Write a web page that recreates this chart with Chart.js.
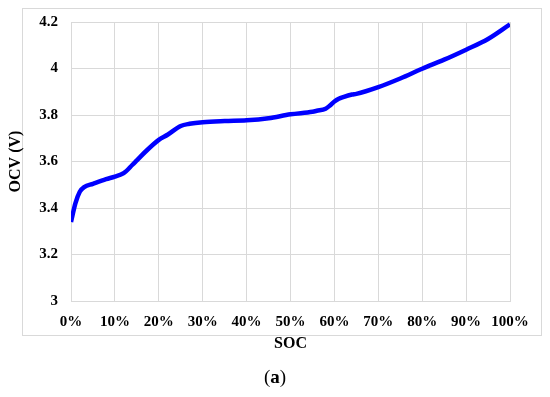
<!DOCTYPE html>
<html>
<head>
<meta charset="utf-8">
<script src="https://cdn.jsdelivr.net/npm/chart.js@4/dist/chart.umd.min.js"></script>
<style>
  html, body { margin: 0; padding: 0; background: #fff; }
  #wrap { position: relative; width: 550px; height: 397px; }
  #frame { position: absolute; left: 22px; top: 8px; width: 518px; height: 326px; border: 1px solid #d9d9d9; }
  #c { position: absolute; left: 0; top: 0; }
  #cap { position: absolute; left: 0; width: 550px; top: 366px; text-align: center; font-family: "Liberation Serif", serif; font-size: 19px; color: #000; }
</style>
</head>
<body>
<div id="wrap">
  <div id="frame"></div>
  <canvas id="c" width="550" height="397"></canvas>
  <div id="cap">(<b>a</b>)</div>
</div>
<script>
const socValues = [0, 1, 2, 3, 5, 8, 10, 12, 14, 15, 17, 20, 22, 25, 27, 30, 35, 40, 45, 50, 55, 56, 58, 59, 60, 61, 62, 64, 65, 70, 75, 80, 85, 90, 95, 100];
const ocvValues = [3.34, 3.42, 3.47, 3.49, 3.504, 3.524, 3.535, 3.55, 3.586, 3.605, 3.643, 3.693, 3.715, 3.753, 3.762, 3.769, 3.774, 3.777, 3.786, 3.803, 3.814, 3.818, 3.827, 3.841, 3.858, 3.870, 3.877, 3.888, 3.891, 3.92, 3.957, 3.999, 4.038, 4.081, 4.127, 4.19];
const xTicks = [0, 10, 20, 30, 40, 50, 60, 70, 80, 90, 100];
const yTicks = [3, 3.2, 3.4, 3.6, 3.8, 4, 4.2];
const xTitle = 'SOC';
const yTitle = 'OCV (V)';

const points = socValues.map((s, i) => ({ x: s, y: ocvValues[i] }));
const tickFont = { family: '"Liberation Serif", serif', size: 15, weight: 'bold' };

new Chart(document.getElementById('c'), {
  type: 'line',
  data: {
    datasets: [{
      data: points,
      borderColor: '#0000ff',
      borderWidth: 4.5,
      pointRadius: 0,
      fill: false,
      cubicInterpolationMode: 'monotone'
    }]
  },
  options: {
    responsive: false,
    animation: false,
    layout: { padding: { left: 6, right: 40, top: 22, bottom: 44 } },
    plugins: { legend: { display: false }, tooltip: { enabled: false } },
    scales: {
      x: {
        type: 'linear',
        min: 0, max: 100,
        afterBuildTicks: (s) => { s.ticks = xTicks.map(v => ({ value: v })); },
        afterFit: (s) => { s.height = 52; },
        ticks: { color: '#000', font: tickFont, padding: 12, callback: v => v + '%', maxRotation: 0 },
        grid: { color: '#d9d9d9', drawTicks: false },
        border: { color: '#d9d9d9' },
        title: { display: true, text: xTitle, color: '#000', font: { family: '"Liberation Serif", serif', size: 16, weight: 'bold' }, padding: 0 }
      },
      y: {
        type: 'linear',
        min: 3, max: 4.2,
        afterBuildTicks: (s) => { s.ticks = yTicks.map(v => ({ value: v })); },
        afterFit: (s) => { s.width = 65; },
        ticks: { color: '#000', font: tickFont, padding: 13, callback: v => String(Math.round(v * 10) / 10) },
        grid: { color: '#d9d9d9', drawTicks: false },
        border: { color: '#d9d9d9' },
        title: { display: true, text: yTitle, color: '#000', font: { family: '"Liberation Serif", serif', size: 16, weight: 'bold' }, padding: 0 }
      }
    }
  }
});
</script>
</body>
</html>
